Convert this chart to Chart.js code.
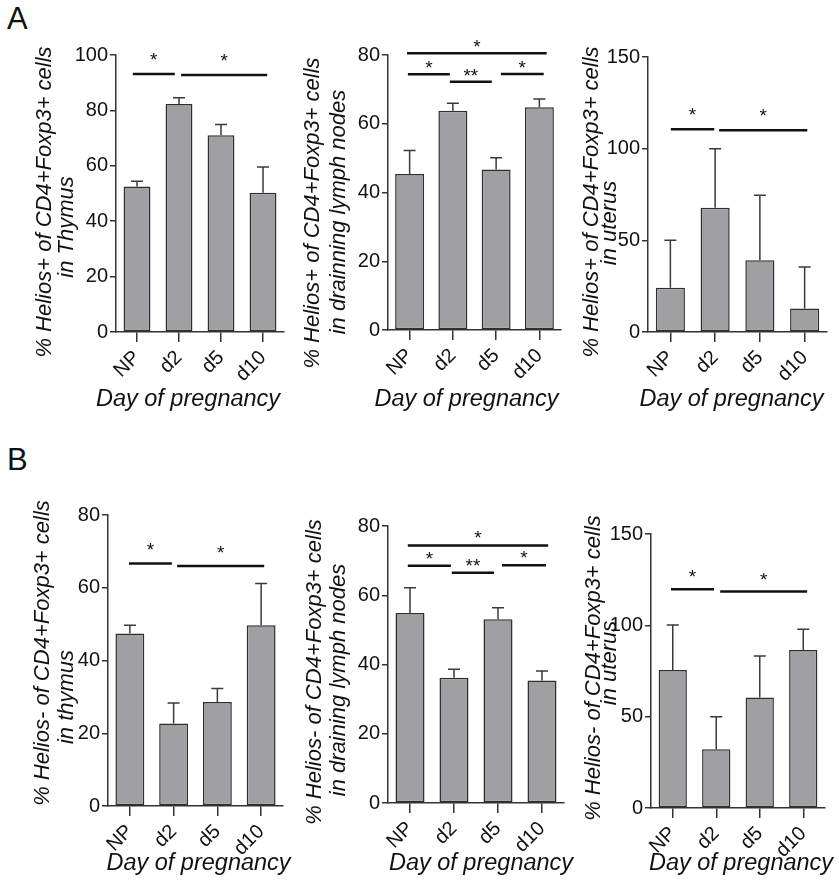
<!DOCTYPE html>
<html>
<head>
<meta charset="utf-8">
<script src="https://cdn.jsdelivr.net/npm/chart.js@4.4.1/dist/chart.umd.min.js"></script>
<style>
  html, body { margin: 0; padding: 0; background: #fff; }
  #fig { position: relative; width: 839px; height: 890px; overflow: hidden; }
  #fig canvas { position: absolute; }
  .tag { position: absolute; font: 31px/31px "Liberation Sans", Arial, sans-serif; color: #111; }
</style>
</head>
<body>
<div id="fig">
  <div class="tag" style="left:7px;top:3px">A</div>
  <div class="tag" style="left:7px;top:444px">B</div>
</div>
<script>
// Groups on the x axis
const categories = ['NP', 'd2', 'd5', 'd10'];

// A: Helios+ of CD4+Foxp3+ cells (mean and upper error)
const thymusPosMean = [52.5, 82.3, 71.0, 50.3];
const thymusPosErr = [1.9, 2.3, 3.9, 9.3];
const lymphPosMean = [45.4, 63.8, 46.7, 64.8];
const lymphPosErr = [6.8, 2.2, 3.4, 2.4];
const uterusPosMean = [24.2, 67.8, 39.1, 12.8];
const uterusPosErr = [25.8, 32.2, 35.5, 22.7];

// B: Helios- of CD4+Foxp3+ cells
const thymusNegMean = [47.4, 22.7, 28.6, 49.7];
const thymusNegErr = [2.3, 5.6, 3.7, 11.5];
const lymphNegMean = [54.9, 36.2, 53.1, 35.4];
const lymphNegErr = [7.3, 2.4, 3.3, 2.7];
const uterusNegMean = [75.5, 32.2, 60.5, 86.5];
const uterusNegErr = [24.7, 17.7, 22.7, 11.4];

// significance bars: [from category, to category, y value, label]
const thymusPosSig = [[-0.1, 0.9, 93.1, '*'], [1.05, 3.1, 92.8, '*']];
const lymphPosSig = [[-0.06, 3.17, 80.5, '*'], [-0.04, 0.93, 74.4, '*'], [0.93, 1.9, 72.2, '**'], [2.11, 3.1, 74.5, '*']];
const uterusPosSig = [[0.01, 0.98, 110.6, '*'], [1.09, 3.06, 110.0, '*']];
const thymusNegSig = [[-0.02, 0.96, 66.7, '*'], [1.08, 3.07, 66.0, '*']];
const lymphNegSig = [[-0.05, 3.14, 74.4, '*'], [-0.05, 0.93, 68.5, '*'], [0.95, 1.91, 66.5, '**'], [2.09, 3.09, 68.7, '*']];
const uterusNegSig = [[-0.04, 0.95, 119.8, '*'], [1.09, 3.09, 118.5, '*']];

const yTicksMax = [100, 80, 150, 80, 80, 150];
const yTicksStep = [20, 20, 50, 20, 20, 50];

const xTitle = 'Day of pregnancy';
const yTitles = [
  ['% Helios+ of CD4+Foxp3+ cells', 'in Thymus'],
  ['% Helios+ of CD4+Foxp3+ cells', 'in drainning lymph nodes'],
  ['% Helios+ of CD4+Foxp3+ cells', 'in uterus'],
  ['% Helios- of CD4+Foxp3+ cells', 'in thymus'],
  ['% Helios- of CD4+Foxp3+ cells', 'in draining lymph nodes'],
  ['% Helios- of CD4+Foxp3+ cells', 'in uterus']
];

const INK = '#111';
const BAR = '#a09fa4';
const FONT = '"Liberation Sans", Arial, sans-serif';

Chart.defaults.font.family = FONT;
Chart.defaults.color = INK;

// box = canvas [left, top, width, height]; area = plot [left, right, top, bottom]
// yText = page centres of the two y-title lines [x1, y1, x2, y2]; xText = [shift, baseline]
const panels = [
  { box: [0, 0, 300, 414], area: [116, 284, 55, 332], yText: [45, 202, 67, 227], xText: [-12, 406], starGap: 19, barPct: 0.64 },
  { box: [280, 0, 300, 414], area: [388, 561, 55, 330], yText: [313, 213, 339, 212], xText: [-8, 406], starGap: 11, barPct: 0.67 },
  { box: [560, 0, 279, 414], area: [648, 827, 57, 332], yText: [592, 202, 610, 223], xText: [-6, 406], starGap: 19, barPct: 0.65 },
  { box: [0, 440, 300, 440], area: [108, 283, 515, 806], yText: [43, 653, 67, 697], xText: [3, 870], starGap: 18, barPct: 0.66 },
  { box: [280, 440, 300, 440], area: [388, 564, 526, 803], yText: [315, 672, 339, 680], xText: [5, 870], starGap: 12, barPct: 0.66 },
  { box: [560, 440, 279, 440], area: [651, 825, 534, 808], yText: [594, 668, 610, 663], xText: [3, 870], starGap: 17, barPct: 0.65 }
];
const seriesMean = [thymusPosMean, lymphPosMean, uterusPosMean, thymusNegMean, lymphNegMean, uterusNegMean];
const seriesErr = [thymusPosErr, lymphPosErr, uterusPosErr, thymusNegErr, lymphNegErr, uterusNegErr];
const seriesSig = [thymusPosSig, lymphPosSig, uterusPosSig, thymusNegSig, lymphNegSig, uterusNegSig];

// upper error whiskers on each bar
const errorBars = {
  id: 'errorBars',
  afterDatasetsDraw(chart) {
    const { ctx, scales: { y } } = chart;
    const ds = chart.data.datasets[0];
    const meta = chart.getDatasetMeta(0);
    ctx.save();
    ctx.strokeStyle = '#3a3a3a';
    ctx.lineWidth = 1.5;
    meta.data.forEach((bar, i) => {
      const base = y.getPixelForValue(ds.data[i]);
      const top = y.getPixelForValue(ds.data[i] + ds.errors[i]);
      ctx.beginPath();
      ctx.moveTo(bar.x, base);
      ctx.lineTo(bar.x, top);
      ctx.moveTo(bar.x - 6, top);
      ctx.lineTo(bar.x + 6, top);
      ctx.stroke();
    });
    ctx.restore();
  }
};

// significance lines and stars, plus the axis titles placed like the figure
function annotations(p, k) {
  return {
    id: 'annotations',
    afterDraw(chart) {
      const { ctx, scales: { x, y }, chartArea } = chart;
      const [bx, by] = p.box;
      ctx.save();
      ctx.strokeStyle = INK;
      ctx.fillStyle = INK;
      ctx.lineWidth = 2.5;
      ctx.font = '19px ' + FONT;
      ctx.textAlign = 'center';
      ctx.textBaseline = 'alphabetic';
      seriesSig[k].forEach(([from, to, level, label]) => {
        const x0 = x.getPixelForValue(from);
        const x1 = x.getPixelForValue(to);
        const yy = y.getPixelForValue(level);
        ctx.beginPath();
        ctx.moveTo(x0, yy);
        ctx.lineTo(x1, yy);
        ctx.stroke();
        ctx.fillText(label, (x0 + x1) / 2, yy - p.starGap + 11);
      });

      ctx.font = 'italic 23.5px ' + FONT;
      ctx.fillText(xTitle, (chartArea.left + chartArea.right) / 2 + p.xText[0], p.xText[1] - by);

      ctx.font = 'italic 22px ' + FONT;
      ctx.textBaseline = 'middle';
      const [x1, y1, x2, y2] = p.yText;
      [[x1, y1], [x2, y2]].forEach(([tx, ty], j) => {
        ctx.save();
        ctx.translate(tx - bx, ty - by);
        ctx.rotate(-Math.PI / 2);
        ctx.fillText(yTitles[k][j], 0, 0);
        ctx.restore();
      });
      ctx.restore();
    }
  };
}

const fig = document.getElementById('fig');

panels.forEach((p, k) => {
  const [bx, by, bw, bh] = p.box;
  const [left, right, top, bottom] = p.area;
  const canvas = document.createElement('canvas');
  canvas.width = bw;
  canvas.height = bh;
  canvas.style.left = bx + 'px';
  canvas.style.top = by + 'px';
  fig.appendChild(canvas);

  new Chart(canvas, {
    type: 'bar',
    data: {
      labels: categories,
      datasets: [{
        data: seriesMean[k],
        errors: seriesErr[k],
        backgroundColor: BAR,
        borderColor: '#2e2e2e',
        borderWidth: 1.5,
        borderSkipped: false,
        barPercentage: p.barPct,
        categoryPercentage: 1
      }]
    },
    options: {
      responsive: false,
      animation: false,
      devicePixelRatio: 1,
      layout: { padding: { left: 0, top: top - by, right: bx + bw - right, bottom: 0 } },
      plugins: { legend: { display: false }, tooltip: { enabled: false } },
      scales: {
        x: {
          border: { display: true, color: '#333', width: 1.5 },
          grid: { display: true, drawOnChartArea: false, offset: false, tickLength: 10, color: '#333', lineWidth: 1.5 },
          ticks: { autoSkip: false, minRotation: 45, maxRotation: 45, padding: 4, color: INK, font: { size: 20 } },
          afterFit: s => { s.height = by + bh - bottom; }
        },
        y: {
          min: 0,
          max: yTicksMax[k],
          border: { display: true, color: '#333', width: 1.5 },
          grid: { display: true, drawOnChartArea: false, tickLength: 6, color: '#333', lineWidth: 1.5 },
          ticks: { stepSize: yTicksStep[k], padding: 2, color: INK, font: { size: 20 } },
          afterFit: s => { s.width = left - bx; }
        }
      }
    },
    plugins: [errorBars, annotations(p, k)]
  });
});
</script>
</body>
</html>
